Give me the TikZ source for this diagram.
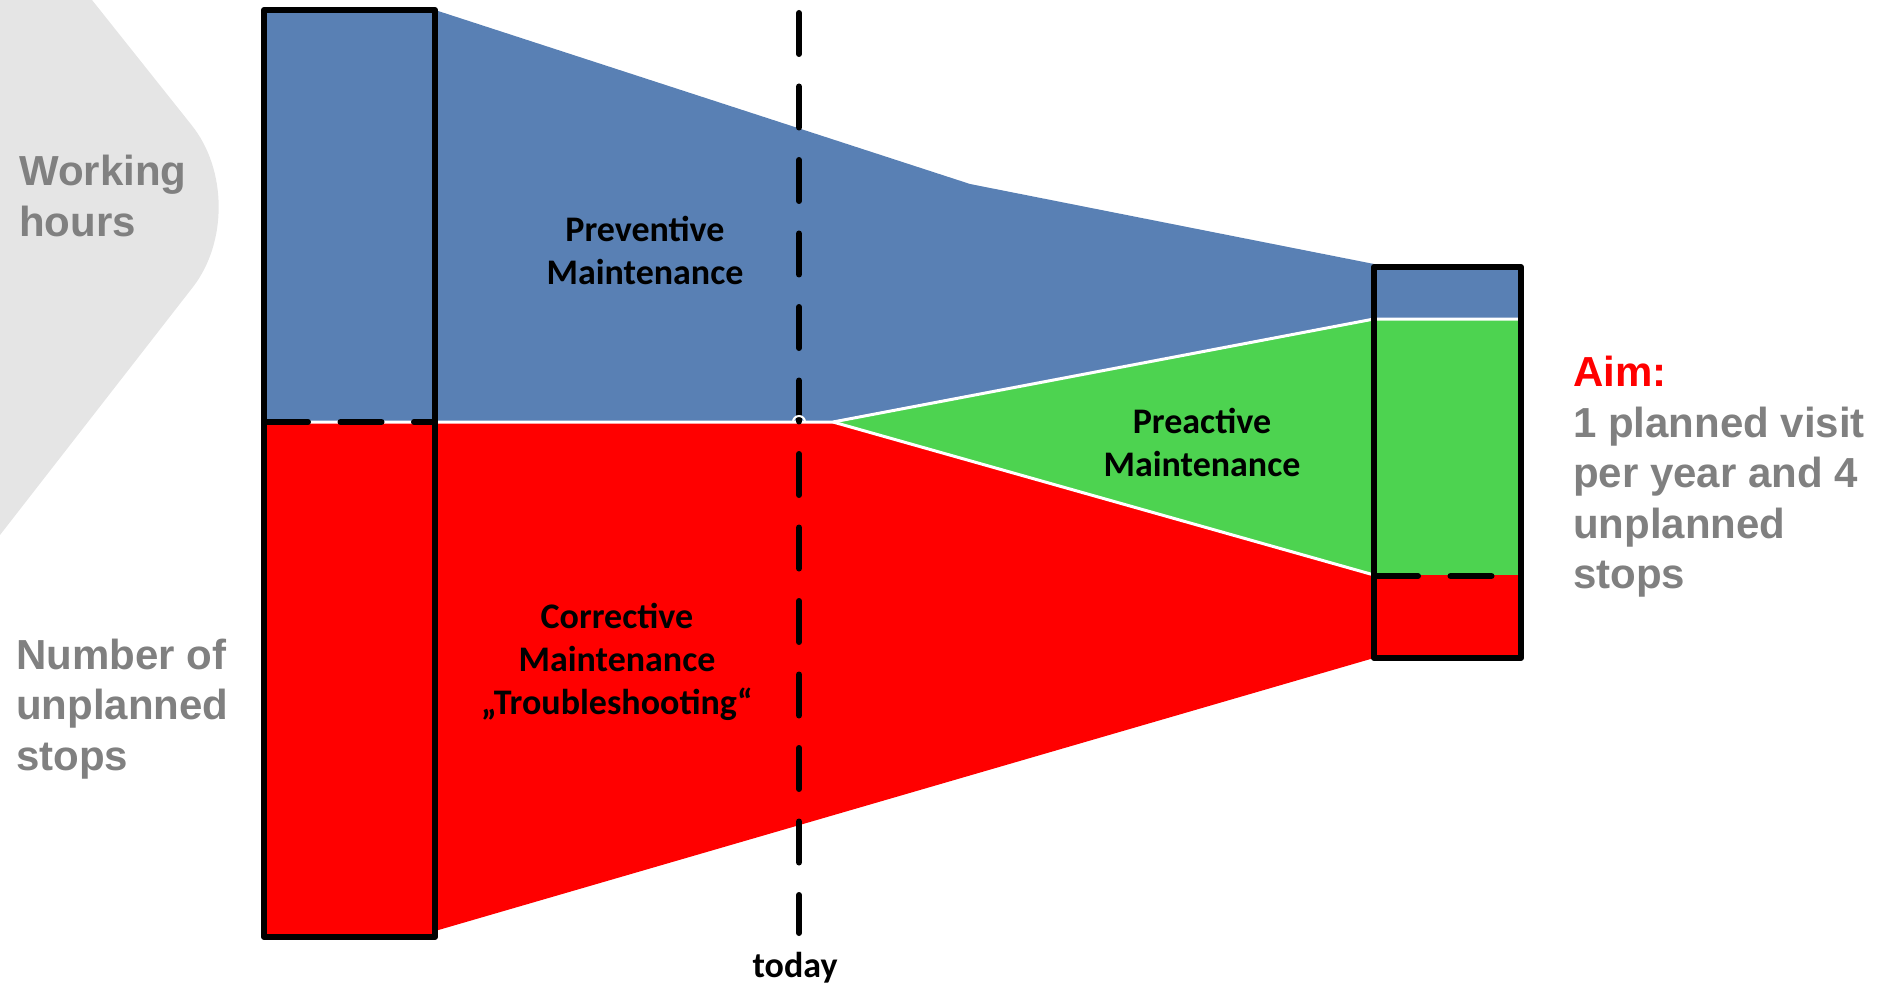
\documentclass[tikz,border=0pt]{standalone}
\usepackage{fontspec}
\setmainfont{Carlito}
\newfontfamily\sidefont{Liberation Sans}
\usepackage{color}
\definecolor{maintBlue}{RGB}{89,128,180}
\definecolor{maintRed}{RGB}{255,0,0}
\definecolor{maintGreen}{RGB}{77,211,80}
\definecolor{chevronGray}{RGB}{229,229,229}
\definecolor{sideGray}{RGB}{128,128,128}
\usepackage{tikz}

\begin{document}
\begin{tikzpicture}[x=1pt,y=-1pt,
    box/.style={draw=black,line width=6pt,line join=round},
    seam/.style={white,line width=3pt,line join=round},
    cut/.style={black,line width=6pt,line cap=round,dash pattern=on 41pt off 32.5pt},
    lbl/.style={font=\bfseries\fontsize{36}{43}\selectfont,align=center,inner sep=0pt},
    side/.style={text=sideGray,font=\sidefont\bfseries\fontsize{42}{50.5}\selectfont,align=left,inner sep=0pt,anchor=west}]

  \newcommand{\lbl}[3]{\node[lbl] (#1) at (#2) {#3};}

  \useasboundingbox (0,0) rectangle (1883,987);

  % chevron behind the side labels
  \fill[chevronGray] (0,0) -- (92,0) [rounded corners=103pt] -- (256,206) [sharp corners] -- (0,535) -- cycle;

  \begin{scope}
    % areas
    \fill[maintBlue] (264,10) -- (435,10) -- (970,184) -- (1374,264) -- (1374,267) -- (1521,267)
      -- (1521,319) -- (1374,319) -- (833,422) -- (264,422) -- cycle;
    \fill[maintGreen] (833,422) -- (1374,319) -- (1521,319) -- (1521,576) -- (1374,576) -- cycle;
    \fill[maintRed] (264,422) -- (833,422) -- (1374,575) -- (1521,575) -- (1521,658) -- (1374,658)
      -- (435,931) -- (435,937) -- (264,937) -- cycle;
%
    \draw[seam] (264,422) -- (833,422) -- (1374,319) -- (1521,319);
    \draw[seam] (833,422) -- (1374,575);
%
    \draw[cut] (799,13) -- (799,933);
    \draw[white,line width=2pt] (793,422) arc[start angle=180,end angle=360,radius=6];
%
    \draw[box] (264,10) rectangle (435,937);
    \draw[box] (1374,267) rectangle (1521,658);
    \draw[cut] (267,422) -- (435,422);
    \draw[cut] (1377,576) -- (1518,576);
  \end{scope}

  \lbl{prev}{645,250}{Preventive\\Maintenance}
  \lbl{preact}{1202,442}{Preactive\\Maintenance}
  \lbl{corr}{617,662}{Corrective\\Maintenance\\„Troubleshooting“}
  \lbl{today}{795,968}{today}

  \node[side] (hours) at (19,196) {Working\\hours};
  \node[side] (stops) at (16,709) {Number of\\unplanned\\stops};
  \node[side] (aim) at (1573,477) {{\color{maintRed}Aim:}\\1 planned visit\\per year and 4\\unplanned\\stops};

\end{tikzpicture}
\end{document}
